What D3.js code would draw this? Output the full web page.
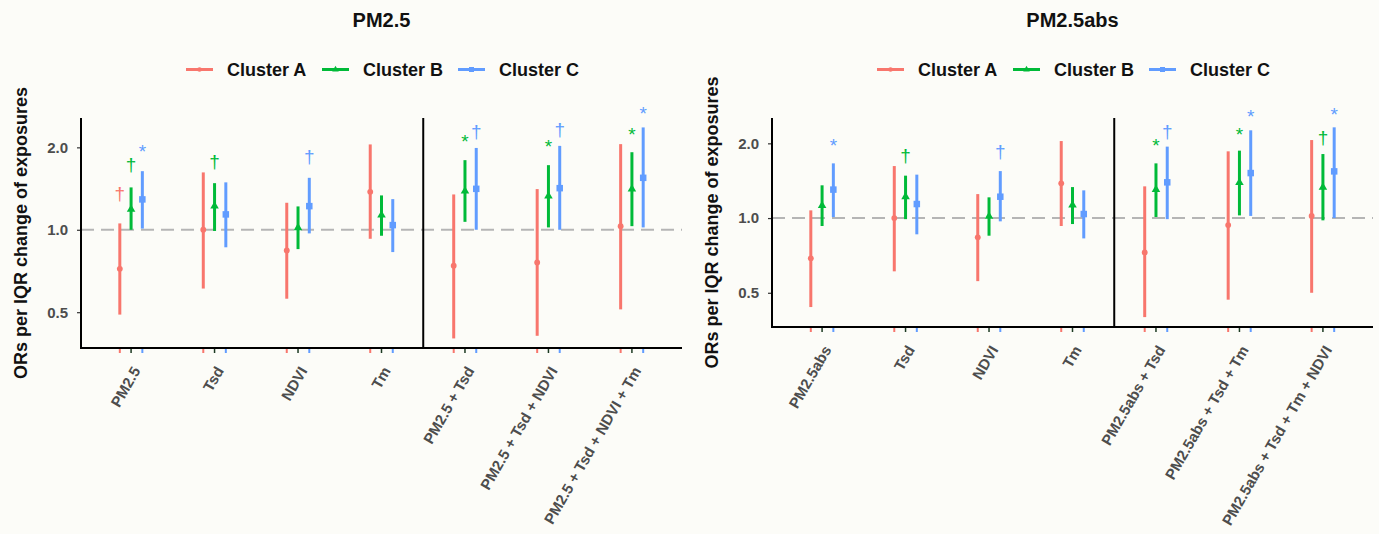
<!DOCTYPE html>
<html>
<head>
<meta charset="utf-8">
<script src="https://cdn.jsdelivr.net/npm/d3@7"></script>
<style>
  html, body { margin: 0; padding: 0; background: #fcfcf8; }
  svg { display: block; font-family: "Liberation Sans", Arial, sans-serif; }
</style>
</head>
<body>
<div id="chart"></div>
<script>
// Odds ratios per category: rows are [OR, lower CI, upper CI]
const clusters = ["Cluster A", "Cluster B", "Cluster C"];
const clusterColors = ["#F8766D", "#00BA38", "#619CFF"];

const pm25Categories = ["PM2.5", "Tsd", "NDVI", "Tm", "PM2.5 + Tsd", "PM2.5 + Tsd + NDVI", "PM2.5 + Tsd + NDVI + Tm"];
const pm25ClusterA = [[0.72, 0.49, 1.055], [1.0, 0.61, 1.62], [0.84, 0.56, 1.255], [1.376, 0.927, 2.05], [0.739, 0.401, 1.346], [0.76, 0.41, 1.408], [1.031, 0.512, 2.055]];
const pm25ClusterB = [[1.187, 1.0, 1.428], [1.22, 0.99, 1.48], [1.017, 0.85, 1.217], [1.131, 0.951, 1.335], [1.384, 1.069, 1.796], [1.327, 1.02, 1.722], [1.408, 1.031, 1.92]];
const pm25ClusterC = [[1.291, 1.01, 1.637], [1.138, 0.863, 1.49], [1.22, 0.97, 1.548], [1.04, 0.829, 1.294], [1.411, 1.0, 1.99], [1.419, 1.0, 2.025], [1.548, 1.02, 2.365]];
const pm25SigA = ["†", "", "", "", "", "", ""];
const pm25SigB = ["†", "†", "", "", "*", "*", "*"];
const pm25SigC = ["*", "", "†", "", "†", "†", "*"];

const absCategories = ["PM2.5abs", "Tsd", "NDVI", "Tm", "PM2.5abs + Tsd", "PM2.5abs + Tsd + Tm", "PM2.5abs + Tsd + Tm + NDVI"];
const absClusterA = [[0.688, 0.438, 1.074], [1.0, 0.61, 1.62], [0.836, 0.557, 1.249], [1.38, 0.929, 2.043], [0.727, 0.399, 1.342], [0.937, 0.469, 1.857], [1.019, 0.5, 2.062]];
const absClusterB = [[1.122, 0.929, 1.355], [1.219, 0.99, 1.482], [1.016, 0.849, 1.212], [1.128, 0.946, 1.333], [1.302, 1.01, 1.661], [1.389, 1.025, 1.869], [1.33, 0.979, 1.811]];
const absClusterC = [[1.302, 1.009, 1.661], [1.139, 0.86, 1.496], [1.219, 0.97, 1.546], [1.038, 0.828, 1.293], [1.393, 0.99, 1.94], [1.518, 1.02, 2.257], [1.542, 1.0, 2.32]];
const absSigA = ["", "", "", "", "", "", ""];
const absSigB = ["", "†", "", "", "*", "*", "†"];
const absSigC = ["*", "", "†", "", "†", "*", "*"];

const yTicks = [0.5, 1.0, 2.0];

const W = 1379, H = 534;

const svg = d3.select("#chart").append("svg")
  .attr("width", W)
  .attr("height", H);

svg.append("rect").attr("width", W).attr("height", H).attr("fill", "#fcfcf8");

function drawMarker(g, shape, x, y, color, s) {
  if (shape === 0) {
    g.append("circle").attr("cx", x).attr("cy", y).attr("r", s * 0.45).attr("fill", color);
  } else if (shape === 1) {
    g.append("path")
      .attr("d", d3.symbol().type(d3.symbolTriangle).size(s * s * 0.75)())
      .attr("transform", `translate(${x},${y})`)
      .attr("fill", color);
  } else {
    g.append("rect").attr("x", x - s / 2).attr("y", y - s / 2).attr("width", s).attr("height", s).attr("fill", color);
  }
}

function drawPanel(cfg) {
  const g = svg.append("g");
  const { left, right, top, bottom } = cfg;

  const x = d3.scalePoint().domain(cfg.categories).range([left, right]).padding(0.6);
  const y = d3.scaleLog().base(2).domain(cfg.yDomain).range([bottom, top]);
  const dodge = x.step() * 0.135;

  // title
  g.append("text")
    .attr("x", (left + right) / 2)
    .attr("y", 27)
    .attr("text-anchor", "middle")
    .style("font-size", "20px")
    .style("font-weight", "bold")
    .attr("fill", "#111")
    .text(cfg.title);

  // legend
  const legX = cfg.legendX;
  clusters.forEach((name, i) => {
    const lx = legX + i * 136;
    g.append("line")
      .attr("x1", lx).attr("x2", lx + 27)
      .attr("y1", 69.5).attr("y2", 69.5)
      .attr("stroke", clusterColors[i])
      .attr("stroke-width", 3);
    drawMarker(g, i, lx + 13.5, 69.5, clusterColors[i], 5);
    g.append("text")
      .attr("x", lx + 41)
      .attr("y", 76)
      .style("font-size", "18px")
      .style("font-weight", "bold")
      .attr("fill", "#111")
      .text(name);
  });

  // reference line at OR = 1
  g.append("line")
    .attr("x1", left).attr("x2", right)
    .attr("y1", y(1)).attr("y2", y(1))
    .attr("stroke", "#b5b5b5")
    .attr("stroke-width", 2)
    .attr("stroke-dasharray", "13,7");

  // y axis
  const yAxis = g.append("g")
    .attr("transform", `translate(${left},0)`)
    .call(d3.axisLeft(y).tickValues(yTicks).tickFormat(d3.format(".1f")).tickSize(4).tickPadding(9));
  yAxis.select(".domain").remove();
  yAxis.selectAll(".tick line").attr("stroke", "#333").attr("stroke-width", 1.2);
  yAxis.selectAll(".tick text")
    .attr("fill", "#4d4d4d")
    .style("font-size", "15px")
    .style("font-weight", "bold")
    .style("font-family", "Liberation Sans, Arial, sans-serif");

  g.append("text")
    .attr("transform", `translate(${cfg.yTitleX},${(top + bottom) / 2}) rotate(-90)`)
    .attr("text-anchor", "middle")
    .style("font-size", "18px")
    .style("font-weight", "bold")
    .attr("fill", "#111")
    .text("ORs per IQR change of exposures");

  // x tick marks and labels
  cfg.categories.forEach(c => {
    const cx = x(c);
    [-1, 1].forEach((k, j) => {
      g.append("line")
        .attr("x1", cx + k * dodge).attr("x2", cx + k * dodge)
        .attr("y1", bottom).attr("y2", bottom + 5)
        .attr("stroke", clusterColors[j === 0 ? 0 : 2])
        .attr("stroke-width", 2);
    });
    g.append("line")
      .attr("x1", cx).attr("x2", cx)
      .attr("y1", bottom).attr("y2", bottom + 5)
      .attr("stroke", "#1c3a22")
      .attr("stroke-width", 1.5);
    g.append("text")
      .attr("transform", `translate(${cx},${bottom + 17}) rotate(-60)`)
      .attr("text-anchor", "end")
      .attr("dy", "0.75em")
      .style("font-size", "15px")
      .style("font-weight", "bold")
      .attr("fill", "#4d4d4d")
      .text(c);
  });

  // error bars, points, significance marks
  cfg.series.forEach((rows, i) => {
    rows.forEach((r, k) => {
      const cx = x(cfg.categories[k]) + (i - 1) * dodge;
      g.append("line")
        .attr("x1", cx).attr("x2", cx)
        .attr("y1", y(r[1])).attr("y2", y(r[2]))
        .attr("stroke", clusterColors[i])
        .attr("stroke-width", 3);
      drawMarker(g, i, cx, y(r[0]), clusterColors[i], 6.5);
      const s = cfg.sig[i][k];
      if (s) {
        g.append("text")
          .attr("x", cx)
          .attr("y", y(r[2] + 0.3))
          .attr("text-anchor", "middle")
          .attr("dominant-baseline", "central")
          .style("font-size", "19px")
          .attr("fill", clusterColors[i])
          .text(s);
      }
    });
  });

  // separator between single and combined exposures
  const sepX = (x(cfg.categories[3]) + x(cfg.categories[4])) / 2;
  g.append("line")
    .attr("x1", sepX).attr("x2", sepX)
    .attr("y1", top).attr("y2", bottom)
    .attr("stroke", "#000")
    .attr("stroke-width", 2);

  // axis lines
  g.append("line")
    .attr("x1", left).attr("x2", left)
    .attr("y1", top).attr("y2", bottom + 1)
    .attr("stroke", "#000").attr("stroke-width", 2);
  g.append("line")
    .attr("x1", left - 1).attr("x2", right)
    .attr("y1", bottom).attr("y2", bottom)
    .attr("stroke", "#000").attr("stroke-width", 2);
}

drawPanel({
  title: "PM2.5",
  categories: pm25Categories,
  series: [pm25ClusterA, pm25ClusterB, pm25ClusterC],
  sig: [pm25SigA, pm25SigB, pm25SigC],
  left: 81, right: 682, top: 118, bottom: 348,
  yDomain: [0.37, 2.56],
  legendX: 186,
  yTitleX: 27
});

drawPanel({
  title: "PM2.5abs",
  categories: absCategories,
  series: [absClusterA, absClusterB, absClusterC],
  sig: [absSigA, absSigB, absSigC],
  left: 772, right: 1373, top: 118, bottom: 327,
  yDomain: [0.364, 2.53],
  legendX: 877,
  yTitleX: 718
});
</script>
</body>
</html>
